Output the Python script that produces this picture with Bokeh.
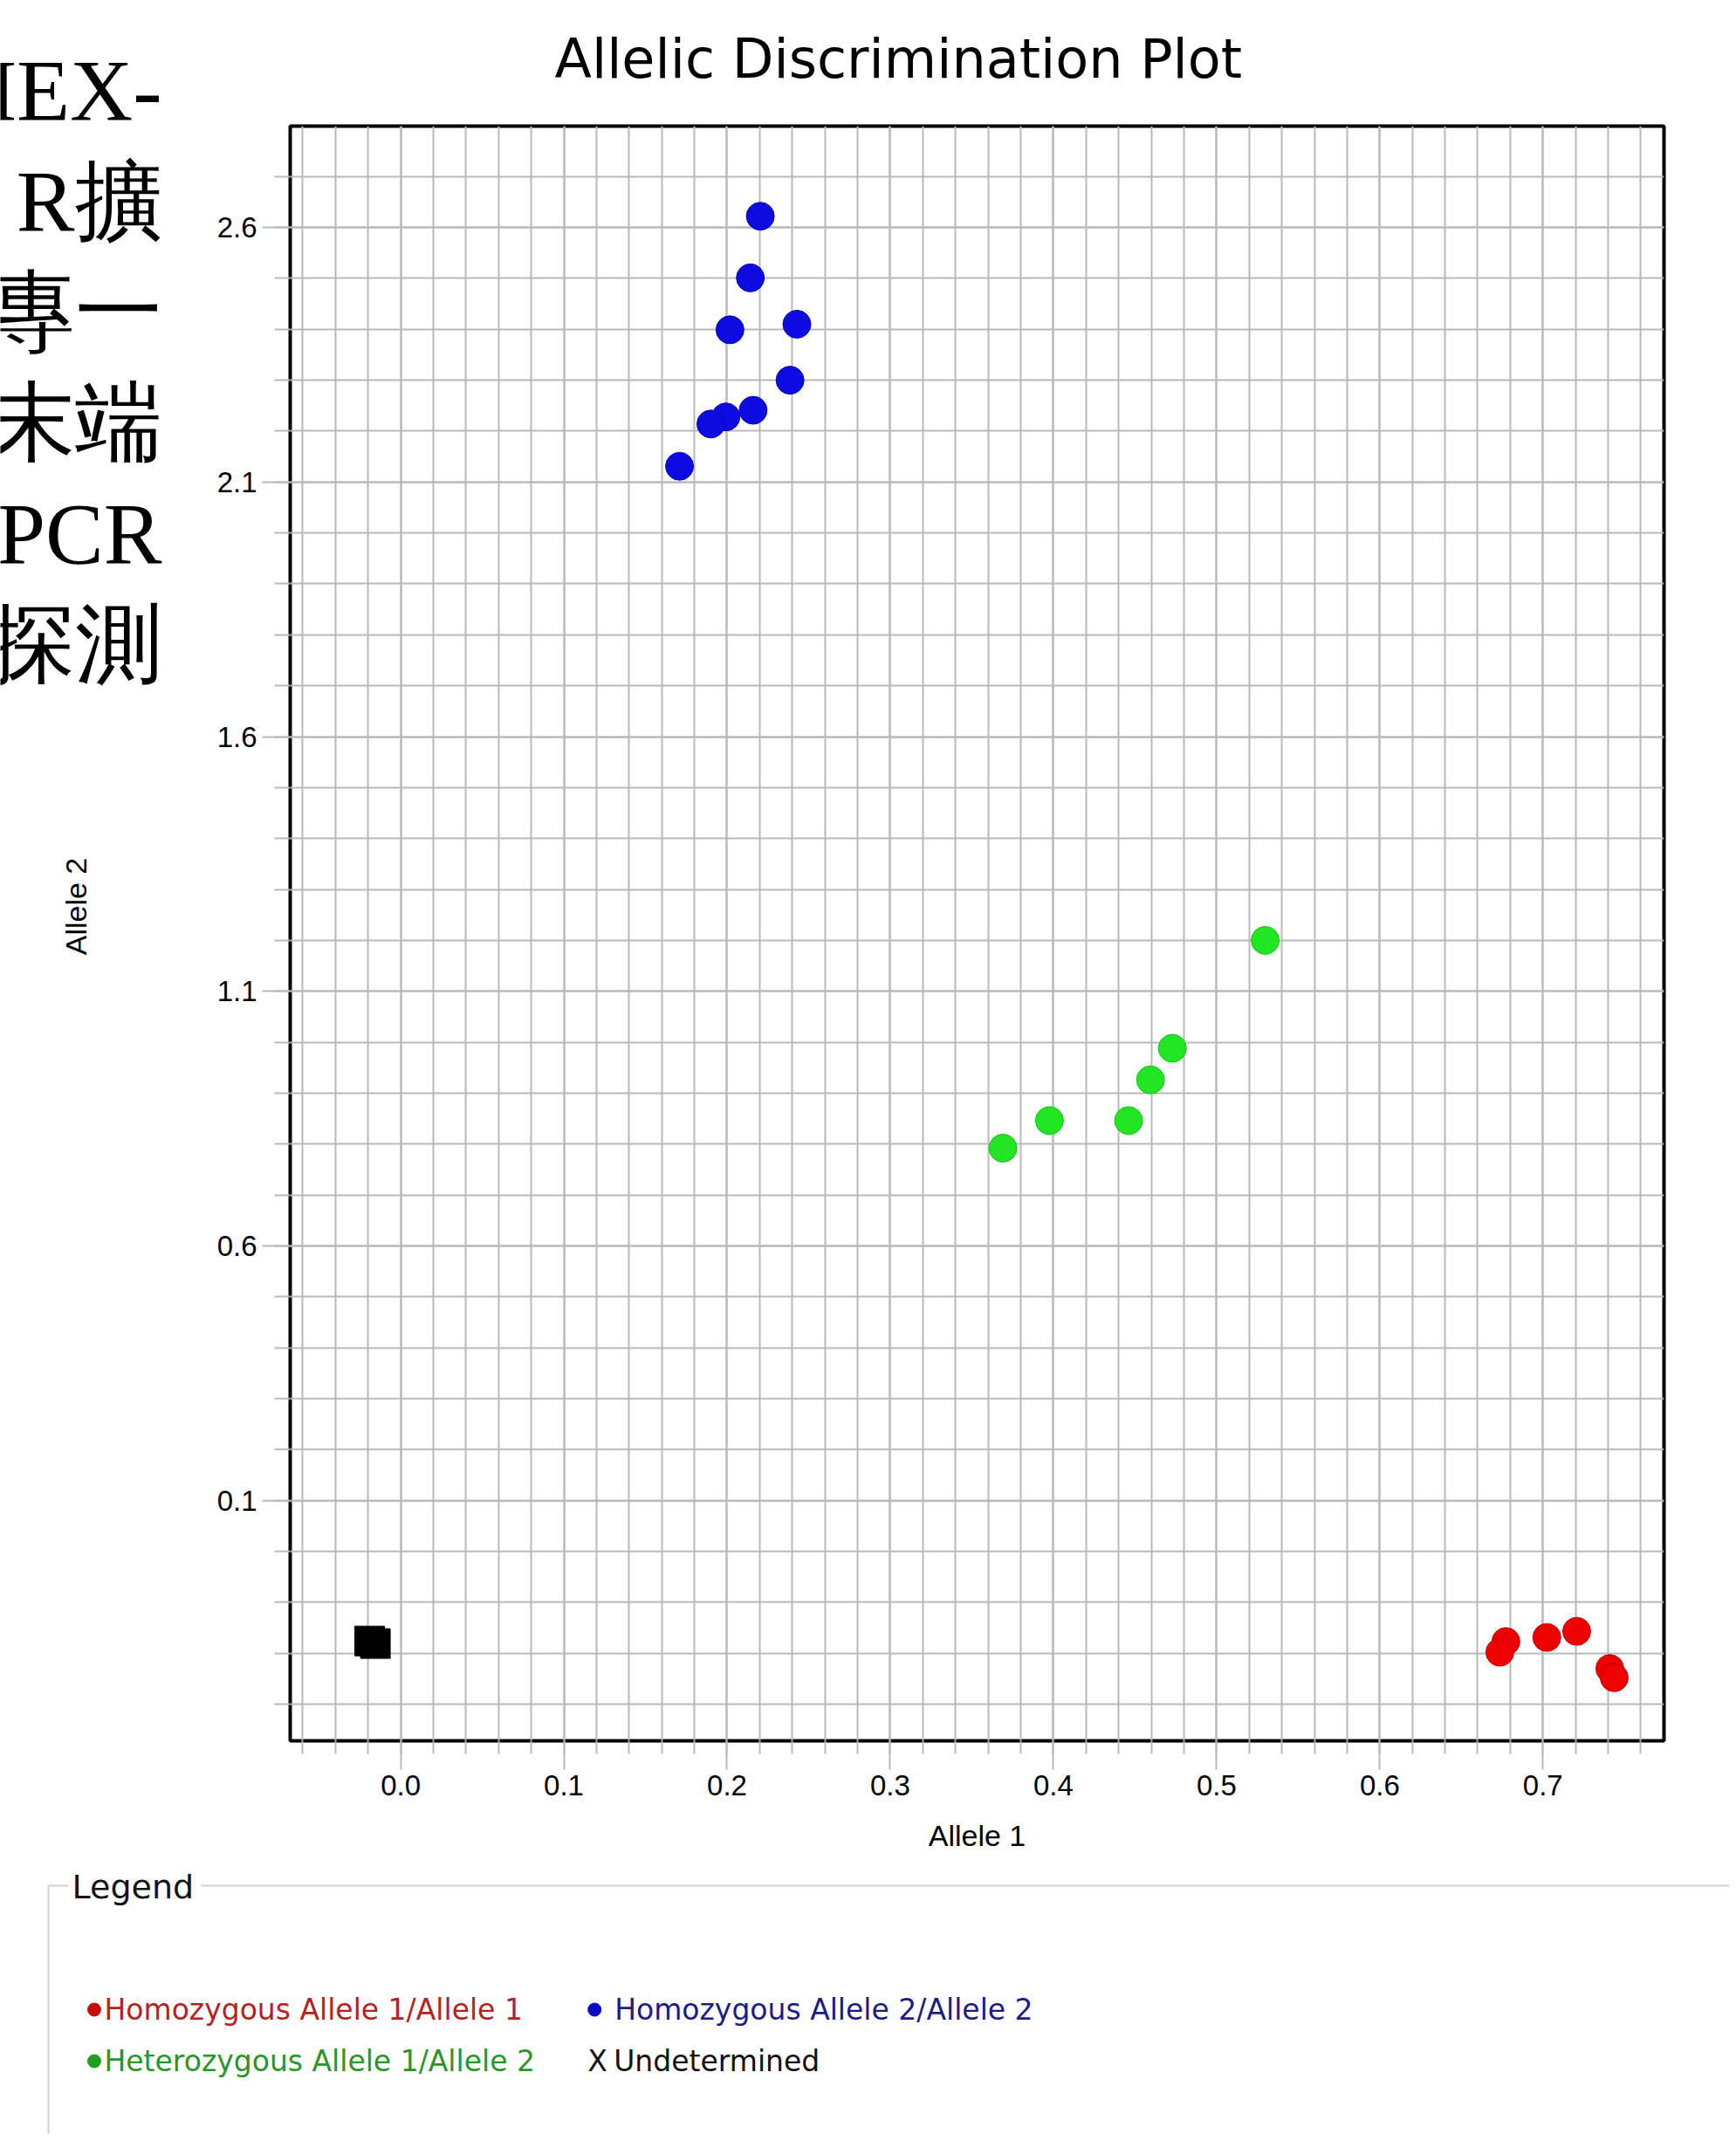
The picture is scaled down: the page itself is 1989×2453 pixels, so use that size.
import math
from bokeh.plotting import figure
from bokeh.models import FixedTicker, PrintfTickFormatter, Range1d
from bokeh.layouts import column, row
from bokeh.embed import file_html
from bokeh.resources import INLINE
from bokeh.core.properties import value

# ---------------- data ----------------
hom1_x = [0.6773, 0.6736, 0.7024, 0.7207, 0.7410, 0.7437]
hom1_y = [-0.177, -0.198, -0.169, -0.157, -0.230, -0.248]

hom2_x = [0.2204, 0.2143, 0.2018, 0.2428, 0.2386, 0.2160, 0.1993, 0.1901, 0.1709]
hom2_y = [2.622, 2.501, 2.399, 2.410, 2.300, 2.241, 2.228, 2.214, 2.131]

het_x = [0.5298, 0.4729, 0.4595, 0.4461, 0.3976, 0.3691]
het_y = [1.200, 0.988, 0.926, 0.846, 0.846, 0.792]

und_x = [-0.0190, -0.0155]
und_y = [-0.176, -0.181]

x_ticks = [0.0, 0.1, 0.2, 0.3, 0.4, 0.5, 0.6, 0.7]
x_minor = [round(-0.06 + 0.02 * i, 2) for i in range(42)]
y_ticks = [0.1, 0.6, 1.1, 1.6, 2.1, 2.6]
y_minor = [round(-0.3 + 0.1 * i, 1) for i in range(31)]

x_lim = (-0.0677, 0.7742)
y_lim = (-0.372, 2.799)

title_text = "Allelic Discrimination Plot"
x_label = "Allele 1"
y_label = "Allele 2"

cn_lines = ["HEX-", "R擴", "專一", "末端", "PCR", "探測"]

legend_title = "Legend"
legend_labels = ["Homozygous Allele 1/Allele 1", "Homozygous Allele 2/Allele 2",
                 "Heterozygous Allele 1/Allele 2", "Undetermined"]
legend_text_colors = ["#b52222", "#1c1c86", "#2a962a", "#111111"]
legend_dot_colors = ["#c40c0c", "#0a0ac4", "#1f9e1f"]

# ---------------- page geometry (pixels) ----------------
W = 1981
LW = 190            # left column width
CH = 850            # bottom of the slide-text panel
TH = 140            # title band height
H_TOP = 2138        # height of the upper part
H2 = 2445 - H_TOP   # legend panel height
FRAME_L, FRAME_R, FRAME_T, FRAME_B = 332, 1906, 144, 1994
MID = 0.3465        # baseline -> middle of the text box, in em


def blank(width, height):
    f = figure(width=width, height=height, title=None,
               x_range=Range1d(0, width), y_range=Range1d(0, height),
               output_backend="svg", toolbar_location=None,
               x_axis_location=None, y_axis_location=None, min_border=0)
    f.xgrid.visible = False
    f.ygrid.visible = False
    f.outline_line_color = None
    f.background_fill_color = "white"
    f.border_fill_color = "white"
    return f


CN_FS = 100
cn_base = [138 + 127 * i for i in range(len(cn_lines))]

# ---------------- top band: title + first slide line ----------------
top = blank(W, TH)
TT_FS = 62
top.text(x=[635], y=[TH - (88 - MID * TT_FS)], text=[title_text], text_align="left",
         text_baseline="middle", text_font=value("DejaVu Sans"),
         text_font_size=value(f"{TT_FS}px"), text_color="black")
top.text(x=[185], y=[TH - (cn_base[0] - MID * CN_FS)], text=[cn_lines[0]],
         text_align="right", text_baseline="middle",
         text_font=value("Liberation Serif"), text_font_size=value(f"{CN_FS}px"),
         text_color="black")

# ---------------- rest of the slide text ----------------
cn_h = CH - TH
cn = blank(LW, cn_h)
cn.text(x=[185] * (len(cn_lines) - 1),
        y=[cn_h - (b - MID * CN_FS - TH) for b in cn_base[1:]],
        text=cn_lines[1:], text_align="right", text_baseline="middle",
        text_font=value("Liberation Serif"), text_font_size=value(f"{CN_FS}px"),
        text_color="black")

# ---------------- y axis title panel ----------------
yl_h = H_TOP - CH
yl = blank(LW, yl_h)
yl.text(x=[86], y=[yl_h - (1038 - CH)], text=[y_label], angle=math.pi / 2,
        text_align="center", text_baseline="middle",
        text_font=value("Liberation Sans"), text_font_size=value("34px"), text_color="black")

# ---------------- main plot ----------------
RW = W - LW
MH = H_TOP - TH
p = figure(width=RW, height=MH, title=None,
           x_range=Range1d(*x_lim), y_range=Range1d(*y_lim),
           output_backend="svg", toolbar_location=None,
           min_border_left=FRAME_L - LW, min_border_right=W - FRAME_R,
           min_border_top=FRAME_T - TH, min_border_bottom=H_TOP - FRAME_B)
p.background_fill_color = "white"
p.border_fill_color = "white"
p.outline_line_color = "black"
p.outline_line_width = 4

grid_col = "#b9b9b9"
for ax, ticks, minor in ((p.xaxis[0], x_ticks, x_minor), (p.yaxis[0], y_ticks, y_minor)):
    ax.ticker = FixedTicker(ticks=ticks, minor_ticks=minor)
    ax.formatter = PrintfTickFormatter(format="%.1f")
    ax.axis_line_color = None
    ax.major_tick_line_color = grid_col
    ax.minor_tick_line_color = grid_col
    ax.major_tick_line_width = 2
    ax.minor_tick_line_width = 2
    ax.major_tick_in = 0
    ax.minor_tick_in = 0
    ax.major_label_text_font = "Liberation Sans"
    ax.major_label_text_font_size = "33px"
    ax.major_label_text_color = "black"

p.xaxis.axis_label = x_label
p.xaxis.axis_label_text_font = "Liberation Sans"
p.xaxis.axis_label_text_font_size = "34px"
p.xaxis.axis_label_text_font_style = "normal"
p.xaxis.axis_label_text_color = "black"
p.xaxis.major_tick_out = 33
p.xaxis.minor_tick_out = 15
p.xaxis.major_label_standoff = 6
p.xaxis.axis_label_standoff = 24
p.yaxis.major_tick_out = 32
p.yaxis.minor_tick_out = 18
p.yaxis.major_label_standoff = 6

for g in (p.xgrid[0], p.ygrid[0]):
    g.grid_line_color = grid_col
    g.grid_line_width = 2
    g.minor_grid_line_color = grid_col
    g.minor_grid_line_width = 2

p.scatter(hom2_x, hom2_y, marker="circle", size=32, fill_color="#0b0be2", line_color="#0808b0", line_width=1)
p.scatter(het_x, het_y, marker="circle", size=32, fill_color="#22e622", line_color="#18c018", line_width=1)
p.scatter(hom1_x, hom1_y, marker="circle", size=32, fill_color="#ee0000", line_color="#bb0000", line_width=1)
p.scatter(und_x, und_y, marker="square", size=34, fill_color="black", line_color="black")

# ---------------- legend panel ----------------
T = H_TOP
lg = blank(W, H2)


def ly(page_y):
    return H2 - (page_y - T)


box_col = "#d2d2d2"
lg.segment(x0=[55, 230, 55], y0=[ly(2160)] * 3,
           x1=[78, W, 55], y1=[ly(2160), ly(2160), 0],
           line_color=box_col, line_width=2)
lg.text(x=[82], y=[ly(2175 - MID * 38)], text=[legend_title], text_baseline="middle",
        text_font=value("DejaVu Sans"), text_font_size=value("38px"), text_color="#141414")

col_dot = [107.5, 680.7, 107.5, 684]
col_txt = [119, 703.7, 119, 702.7]
row_mid = [ly(2302), ly(2302), ly(2361), ly(2361)]

lg.scatter(x=col_dot[:3], y=row_mid[:3], marker="circle", size=15,
           fill_color=legend_dot_colors, line_color=legend_dot_colors)
lg.text(x=[col_dot[3]], y=[row_mid[3]], text=["X"], text_align="center", text_baseline="middle",
        text_font=value("DejaVu Sans"), text_font_size=value("33px"), text_color="#111111")
lg.text(x=col_txt, y=row_mid, text=legend_labels, text_baseline="middle",
        text_font=value("DejaVu Sans"), text_font_size=value("33px"),
        text_color=legend_text_colors)

page = column(top, row(column(cn, yl, spacing=0), p, spacing=0), lg, spacing=0)
open("out.html", "w").write(file_html(page, INLINE))
